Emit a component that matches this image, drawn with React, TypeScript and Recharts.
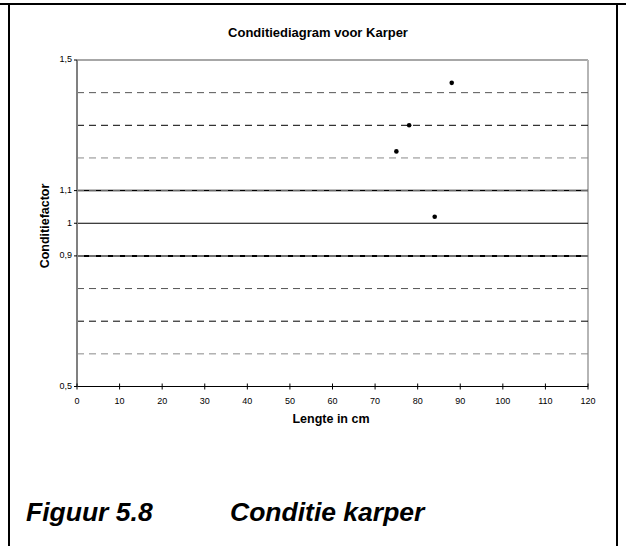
import React from 'react';
import { ScatterChart, Scatter, XAxis, YAxis, ReferenceLine } from 'recharts';

// ---- data ----
const lengths = [75, 78, 84, 88];
const factors = [1.22, 1.3, 1.02, 1.43];
const xTicks = [0, 10, 20, 30, 40, 50, 60, 70, 80, 90, 100, 110, 120];
const yTicks = [0.5, 0.9, 1, 1.1, 1.5];
const upperDashed = [1.4, 1.3, 1.2];
const lowerDashed = [0.8, 0.7, 0.6];
const normalLevel = 1;
const upperLimit = 1.1;
const lowerLimit = 0.9;

const points = lengths.map((l, i) => ({ x: l, y: factors[i] }));

const FONT = '"Liberation Sans", Arial, sans-serif';
const shade = ['#555555', '#000000', '#8a8a8a'];

const fmt = (v: number) => String(v).replace('.', ',');

const XTick = (props: any) => {
  const { x, y, payload } = props;
  return (
    <g>
      <line x1={x} x2={x} y1={y - 3} y2={y + 3} stroke="#000" strokeWidth={1} />
      <text x={x} y={y + 15} textAnchor="middle" dominantBaseline="middle" fontSize={9} fontFamily={FONT} fill="#000">
        {payload.value}
      </text>
    </g>
  );
};

const YTick = (props: any) => {
  const { x, y, payload } = props;
  return (
    <text x={x} y={y} textAnchor="end" dominantBaseline="middle" fontSize={9} fontFamily={FONT} fill="#000">
      {fmt(payload.value)}
    </text>
  );
};

const Dot = (p: any) => <circle cx={p.cx} cy={p.cy} r={2.3} fill="#000" />;

export default function App() {
  return (
    <div style={{ position: 'fixed', left: 0, top: 0, width: 626, height: 546, background: '#fff', fontFamily: FONT, overflow: 'hidden' }}>
      {/* frame */}
      <div style={{ position: 'absolute', left: 0, top: 3, width: 626, height: 2, background: '#000' }} />
      <div style={{ position: 'absolute', left: 8, top: 3, width: 2, height: 543, background: '#000' }} />
      <div style={{ position: 'absolute', left: 616, top: 3, width: 2, height: 543, background: '#000' }} />

      <div style={{ position: 'absolute', left: 318, top: 32, transform: 'translate(-50%,-50%)', fontSize: 13, fontWeight: 'bold', whiteSpace: 'nowrap' }}>
        Conditiediagram voor Karper
      </div>

      <ScatterChart width={626} height={546} margin={{ top: 60, right: 38, bottom: 0, left: 0 }} style={{ position: 'absolute', left: 0, top: 0 }}>
        <XAxis
          type="number"
          dataKey="x"
          domain={[0, 120]}
          ticks={xTicks}
          interval={0}
          height={159.5}
          tickSize={0}
          tickMargin={0}
          tickLine={false}
          axisLine={{ stroke: '#000', strokeWidth: 1 }}
          tick={<XTick />}
        />
        <YAxis
          type="number"
          dataKey="y"
          domain={[0.5, 1.5]}
          ticks={yTicks}
          interval={0}
          width={77}
          tickSize={3}
          tickMargin={2}
          tickLine={{ stroke: '#000' }}
          axisLine={{ stroke: '#808080', strokeWidth: 2 }}
          tick={<YTick />}
        />
        <ReferenceLine y={1.5} stroke="#8a8a8a" strokeWidth={1.5} />
        <ReferenceLine x={120} stroke="#b5b5b5" strokeWidth={2} />
        {upperDashed.map((v, i) => (
          <ReferenceLine key={'u' + v} y={v} stroke={shade[i]} strokeWidth={1} strokeDasharray="7 5" />
        ))}
        {lowerDashed.map((v, i) => (
          <ReferenceLine key={'l' + v} y={v} stroke={shade[i]} strokeWidth={1} strokeDasharray="7 5" />
        ))}
        <ReferenceLine y={upperLimit} stroke="#000" strokeWidth={1.5} />
        <ReferenceLine y={upperLimit} stroke="#777" strokeWidth={1} strokeDasharray="7 5" />
        <ReferenceLine y={normalLevel} stroke="#000" strokeWidth={1} />
        <ReferenceLine y={lowerLimit} stroke="#000" strokeWidth={2} />
        <ReferenceLine y={lowerLimit} stroke="#707070" strokeWidth={2} strokeDasharray="7 5" />
        <Scatter data={points} isAnimationActive={false} shape={<Dot />} />
      </ScatterChart>

      <div style={{ position: 'absolute', left: 45, top: 226, transform: 'translate(-50%,-50%) rotate(-90deg)', fontSize: 12.5, fontWeight: 'bold', whiteSpace: 'nowrap' }}>
        Conditiefactor
      </div>
      <div style={{ position: 'absolute', left: 331, top: 419, transform: 'translate(-50%,-50%)', fontSize: 12.5, fontWeight: 'bold', whiteSpace: 'nowrap' }}>
        Lengte in cm
      </div>

      <div style={{ position: 'absolute', left: 26, top: 499, fontSize: 26.5, lineHeight: '26px', fontWeight: 'bold', fontStyle: 'italic', whiteSpace: 'nowrap' }}>
        Figuur 5.8
      </div>
      <div style={{ position: 'absolute', left: 230, top: 499, fontSize: 26.5, lineHeight: '26px', fontWeight: 'bold', fontStyle: 'italic', whiteSpace: 'nowrap' }}>
        Conditie karper
      </div>
    </div>
  );
}
